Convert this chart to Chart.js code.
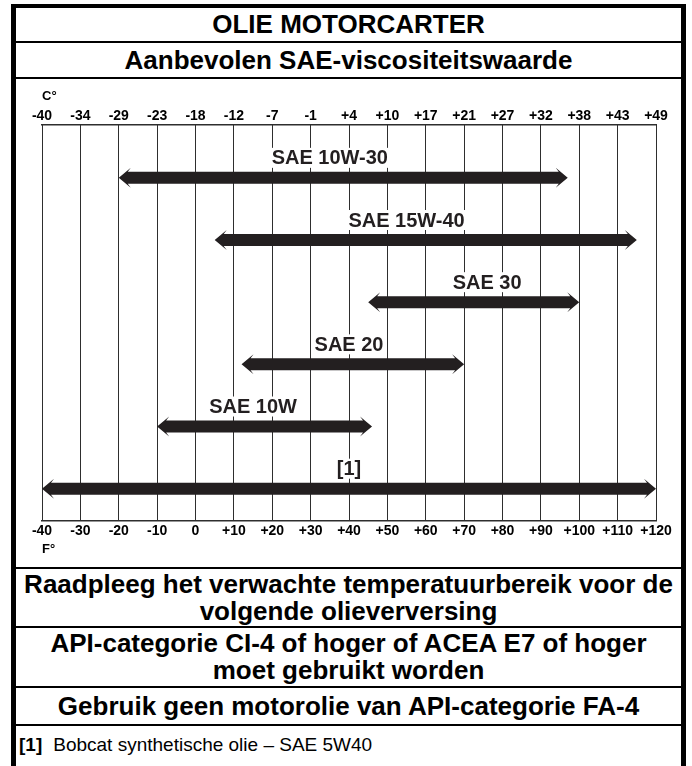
<!DOCTYPE html>
<html>
<head>
<meta charset="utf-8">
<title>Olie motorcarter</title>
<script src="https://cdn.jsdelivr.net/npm/chart.js@4.4.1/dist/chart.umd.min.js"></script>
<style>
  html, body { margin: 0; padding: 0; background: #fff; }
  body { width: 692px; height: 766px; overflow: hidden; position: relative;
         font-family: "Liberation Sans", Arial, Helvetica, sans-serif; color: #000; }
  #sheet { position: absolute; left: 11px; top: 4px; width: 665px; height: 800px;
           border: 5px solid #000; border-top-width: 4px; border-bottom: 0; }
  .row { position: absolute; left: 0; width: 665px; border-bottom: 2px solid #000;
         display: flex; flex-direction: column; justify-content: center; align-items: center;
         font-weight: bold; font-size: 26px; line-height: 27px; text-align: center; }
  #r1 { top: 0; height: 33px; }
  #r2 { top: 35px; height: 34px; }
  #plot { top: 71px; height: 488px; display: block; }
  #r4 { top: 561px; height: 57px; }
  #r5 { top: 620px; height: 58px; }
  #r6 { top: 680px; height: 36px; }
  #r7 { top: 718px; height: 37px; border-bottom: 0; align-items: flex-start;
        font-weight: normal; font-size: 19px; padding-left: 3px; }
  #r7 b { margin-right: 11px; }
  #plot canvas { position: absolute; left: 0; top: 0; }
</style>
</head>
<body>
<div id="sheet">
  <div class="row" id="r1">OLIE MOTORCARTER</div>
  <div class="row" id="r2">Aanbevolen SAE-viscositeitswaarde</div>
  <div class="row" id="plot"><canvas id="viscChart" width="665" height="488"></canvas></div>
  <div class="row" id="r4"><div>Raadpleeg het verwachte temperatuurbereik voor de</div><div>volgende olieverversing</div></div>
  <div class="row" id="r5"><div>API-categorie CI-4 of hoger of ACEA E7 of hoger</div><div>moet gebruikt worden</div></div>
  <div class="row" id="r6">Gebruik geen motorolie van API-categorie FA-4</div>
  <div class="row" id="r7"><div><b>[1]</b>Bobcat synthetische olie – SAE 5W40</div></div>
</div>
<script>
// oil grades and their usable ambient range in °F (the chart runs on the Fahrenheit scale)
const grades = ["SAE 10W-30", "SAE 15W-40", "SAE 30", "SAE 20", "SAE 10W", "[1]"];
const lowF = [-20, 5, 45, 12, -10, -40];
const highF = [97, 115, 100, 70, 46, 120];
// where each grade name sits along the arrow, °F
const labelAtF = [35, 55, 76, 40, 15, 40];

const fahrenheitTicks = ["-40", "-30", "-20", "-10", "0", "+10", "+20", "+30", "+40",
  "+50", "+60", "+70", "+80", "+90", "+100", "+110", "+120"];
const celsiusTicks = ["-40", "-34", "-29", "-23", "-18", "-12", "-7", "-1", "+4",
  "+10", "+17", "+21", "+27", "+32", "+38", "+43", "+49"];

const INK = "#231f20";
const GRID = "#2e2e2e";
const FONT = '"Liberation Sans", Arial, Helvetica, sans-serif';

// one hidden dataset per grade: start and end point of the range
const datasets = grades.map((g, i) => ({
  label: g,
  data: [{ x: lowF[i], y: i }, { x: highF[i], y: i }],
  showLine: false,
  pointRadius: 0,
  pointHoverRadius: 0
}));

function drawArrow(ctx, xl, xr, y) {
  const s = 6, h = 10, len = 12, sweep = 3;
  ctx.beginPath();
  ctx.moveTo(xl, y);
  ctx.lineTo(xl + len, y - h);
  ctx.lineTo(xl + len - sweep, y - s);
  ctx.lineTo(xr - len + sweep, y - s);
  ctx.lineTo(xr - len, y - h);
  ctx.lineTo(xr, y);
  ctx.lineTo(xr - len, y + h);
  ctx.lineTo(xr - len + sweep, y + s);
  ctx.lineTo(xl + len - sweep, y + s);
  ctx.lineTo(xl + len, y + h);
  ctx.closePath();
  ctx.fillStyle = INK;
  ctx.fill();
}

const arrowPlugin = {
  id: "rangeArrows",
  afterDatasetsDraw(chart) {
    const ctx = chart.ctx;
    const xs = chart.scales.x;
    ctx.save();
    chart.data.datasets.forEach((ds, i) => {
      const pts = chart.getDatasetMeta(i).data;
      const y = pts[0].y;
      drawArrow(ctx, pts[0].x, pts[1].x, y);

      // grade name on a white patch that cuts the grid lines
      ctx.font = "bold 20px " + FONT;
      ctx.textAlign = "center";
      ctx.textBaseline = "middle";
      const lx = xs.getPixelForValue(labelAtF[i]);
      const ly = y - 20;
      const w = ctx.measureText(ds.label).width;
      ctx.fillStyle = "#fff";
      ctx.fillRect(lx - w / 2 - 2, ly - 10, w + 4, 20);
      ctx.fillStyle = INK;
      ctx.fillText(ds.label, lx, ly + 1);
    });
    ctx.restore();
  }
};

new Chart(document.getElementById("viscChart"), {
  type: "scatter",
  data: { datasets: datasets },
  plugins: [arrowPlugin],
  options: {
    responsive: false,
    animation: false,
    events: [],
    layout: { padding: { left: 26, right: 25, top: 0, bottom: 0 } },
    plugins: { legend: { display: false }, tooltip: { enabled: false } },
    scales: {
      x: {
        type: "linear",
        position: "bottom",
        min: -40,
        max: 120,
        afterBuildTicks(scale) {
          scale.ticks = fahrenheitTicks.map(t => ({ value: Number(t) }));
        },
        ticks: {
          callback: (v, i) => fahrenheitTicks[i],
          autoSkip: false,
          maxRotation: 0,
          padding: 2,
          color: "#000",
          font: { family: FONT, size: 14, weight: "bold" }
        },
        grid: { color: GRID, lineWidth: 1, drawTicks: false },
        border: { display: true, color: GRID, width: 1.5 },
        title: {
          display: true, text: "F°", align: "start", color: "#000",
          padding: { top: 0, bottom: 10 },
          font: { family: FONT, size: 13, weight: "bold" }
        },
        afterFit(scale) { scale.height = 46; }
      },
      x2: {
        type: "linear",
        position: "top",
        min: -40,
        max: 120,
        afterBuildTicks(scale) {
          scale.ticks = fahrenheitTicks.map(t => ({ value: Number(t) }));
        },
        ticks: {
          callback: (v, i) => celsiusTicks[i],
          autoSkip: false,
          maxRotation: 0,
          padding: 0,
          color: "#000",
          font: { family: FONT, size: 14, weight: "bold" }
        },
        grid: { drawOnChartArea: false, drawTicks: false },
        border: { display: true, color: GRID, width: 1.5 },
        title: {
          display: true, text: "C°", align: "start", color: "#000",
          padding: { top: 10, bottom: 0 },
          font: { family: FONT, size: 13, weight: "bold" }
        },
        afterFit(scale) { scale.height = 46; }
      },
      y: {
        type: "linear",
        display: false,
        reverse: true,
        min: -0.85,
        max: 5.52
      }
    }
  }
});
</script>
</body>
</html>
